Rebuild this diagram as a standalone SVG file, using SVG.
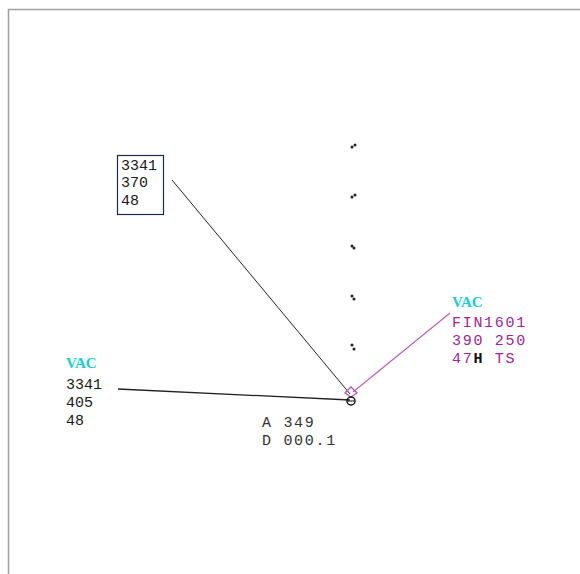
<svg xmlns="http://www.w3.org/2000/svg" width="580" height="574" viewBox="0 0 580 574">
<style>
.t{font-family:"Liberation Mono","DejaVu Sans Mono",monospace;font-size:15px;fill:#1a1a1a}
.w{font-family:"Liberation Mono","DejaVu Sans Mono",monospace;font-size:15px;letter-spacing:1.7px}
.vac{font-family:"Liberation Serif",serif;font-weight:bold;font-size:15px;fill:#10d0d8}
.m{fill:#a8229a}
.k{fill:#333}
.dot{fill:#222}
</style>
<rect width="580" height="574" fill="#fff"/>
<path d="M8.5 574 V9.5 H580" fill="none" stroke="#a0a0a0" stroke-width="1.5"/>
<g id="connectors">
<line x1="172" y1="180" x2="350" y2="394" stroke="#222" stroke-width="1"/>
<line x1="118" y1="389" x2="350" y2="400" stroke="#222" stroke-width="1.3"/>
<line x1="450" y1="313" x2="353" y2="392" stroke="#c060b8" stroke-width="1.2"/>
</g>
<g id="track-dots">
<circle cx="352" cy="147" r="1.5" class="dot"/><circle cx="355" cy="145" r="1.5" class="dot"/>
<circle cx="352" cy="197" r="1.5" class="dot"/><circle cx="355" cy="195" r="1.5" class="dot"/>
<circle cx="352" cy="246" r="1.5" class="dot"/><circle cx="354" cy="248" r="1.5" class="dot"/>
<circle cx="352" cy="296" r="1.5" class="dot"/><circle cx="354" cy="299" r="1.5" class="dot"/>
<circle cx="352" cy="345" r="1.5" class="dot"/><circle cx="354" cy="349" r="1.5" class="dot"/>
</g>
<g id="aircraft">
<path d="M351 387 L357 393 L351 397 L345 393 Z" fill="none" stroke="#c050b0" stroke-width="1.3"/>
<circle cx="351" cy="401" r="4" fill="none" stroke="#111" stroke-width="1.5"/>
<line x1="348" y1="401" x2="354" y2="401" stroke="#111" stroke-width="1"/>
</g>
<g id="box-tag">
<rect x="117.5" y="155.5" width="46" height="59" fill="none" stroke="#1a2a50" stroke-width="1.2"/>
<text class="t" x="121" y="170">3341</text>
<text class="t" x="121" y="187">370</text>
<text class="t" x="121" y="205">48</text>
</g>
<g id="left-tag">
<text class="vac" x="66" y="368">VAC</text>
<text class="t" x="66" y="389">3341</text>
<text class="t" x="66" y="407">405</text>
<text class="t" x="66" y="425">48</text>
</g>
<g id="right-tag">
<text class="vac" x="452" y="307">VAC</text>
<text class="w m" x="452" y="327">FIN1601</text>
<text class="w m" x="452" y="345">390 250</text>
<text class="w m" x="452" y="363">47<tspan fill="#111" font-weight="bold">H</tspan> TS</text>
</g>
<g id="readout">
<text class="w k" x="262" y="427">A 349</text>
<text class="w k" x="262" y="445">D 000.1</text>
</g>
</svg>
